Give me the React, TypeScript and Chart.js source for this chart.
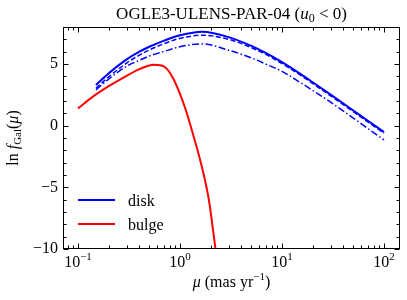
import React, { useEffect, useRef } from "react";
import { Chart, registerables } from "chart.js";

Chart.register(...registerables);

const SERIF = '"Liberation Serif", "DejaVu Serif", serif';

// proper motion grid (mas/yr) for the disk curves
const muDisk = [0.15, 0.2, 0.3, 0.4, 0.5, 0.7, 1, 1.65, 3, 5, 7, 10, 15, 20, 30, 50, 70, 100];
const diskSolid = [3.3, 4.24, 5.37, 6.0, 6.4, 6.9, 7.33, 7.62, 7.18, 6.47, 5.88, 5.15, 4.22, 3.52, 2.52, 1.23, 0.38, -0.52];
const diskDashed = [3.03, 3.95, 5.08, 5.72, 6.14, 6.65, 7.08, 7.33, 7.0, 6.33, 5.76, 5.04, 4.12, 3.42, 2.42, 1.13, 0.28, -0.62];
const diskDashDot = [2.9, 3.78, 4.82, 5.3, 5.65, 6.02, 6.4, 6.63, 6.12, 5.5, 4.98, 4.4, 3.52, 2.86, 1.9, 0.62, -0.25, -1.15];

// bulge curve
const muBulge = [0.1, 0.14, 0.2, 0.274, 0.4, 0.48, 0.56, 0.7, 0.84, 0.98, 1.14, 1.32, 1.64, 1.92, 2.15, 2.35];
const bulge = [1.4, 2.35, 3.2, 3.86, 4.58, 4.84, 4.93, 4.78, 3.97, 2.76, 1.27, -0.49, -3.35, -6.03, -9.0, -11.5];

const xMajorTicks = [0.1, 1, 10, 100];
const xMajorExponents = ["\u22121", "0", "1", "2"];
const yMajorTicks = [-10, -5, 0, 5];
const X_MIN = 0.0713;
const X_MAX = 143.5;
const Y_MIN = -10;
const Y_MAX = 8;

const legendItems = [
  { label: "disk", color: "#0000ff" },
  { label: "bulge", color: "#ff0000" },
];

type Part = { t: string; font: string; dy?: number };

function richWidth(ctx: CanvasRenderingContext2D, parts: Part[]) {
  let w = 0;
  for (const p of parts) {
    ctx.font = p.font;
    w += ctx.measureText(p.t).width;
  }
  return w;
}

function drawRich(ctx: CanvasRenderingContext2D, parts: Part[], x: number, y: number, align: "left" | "center" | "right") {
  const w = richWidth(ctx, parts);
  let cx = align === "center" ? x - w / 2 : align === "right" ? x - w : x;
  ctx.textAlign = "left";
  ctx.textBaseline = "alphabetic";
  for (const p of parts) {
    ctx.font = p.font;
    ctx.fillText(p.t, cx, y + (p.dy || 0));
    cx += ctx.measureText(p.t).width;
  }
}

const R = (s: number) => `${s}px ${SERIF}`;
const I = (s: number) => `italic ${s}px ${SERIF}`;

const decorPlugin = {
  id: "decor",
  afterDraw(chart: any) {
    const ctx: CanvasRenderingContext2D = chart.ctx;
    const { left, right, top, bottom } = chart.chartArea;
    const xs = chart.scales.x;
    const ys = chart.scales.y;
    ctx.save();
    ctx.fillStyle = "#000";
    ctx.strokeStyle = "#000";
    ctx.lineWidth = 1;
    // frame
    const L = Math.round(left) + 0.5;
    const Rr = Math.round(right) - 0.5;
    const T = Math.round(top) + 0.5;
    const B = Math.round(bottom) - 0.5;
    ctx.strokeRect(L, T, Rr - L, B - T);

    // x ticks (inward, bottom and top)
    ctx.beginPath();
    for (let d = -2; d <= 2; d++) {
      for (let m = 1; m <= 9; m++) {
        const v = m * Math.pow(10, d);
        if (v < X_MIN || v > X_MAX) continue;
        const px = Math.round(xs.getPixelForValue(v)) + 0.5;
        const len = m === 1 ? 5 : 3;
        ctx.moveTo(px, B);
        ctx.lineTo(px, B - len);
        ctx.moveTo(px, T);
        ctx.lineTo(px, T + len);
      }
    }
    // y ticks (inward, left and right)
    for (let v = Y_MIN; v <= Y_MAX; v++) {
      const py = Math.round(ys.getPixelForValue(v)) + 0.5;
      const len = v % 5 === 0 ? 5 : 3;
      ctx.moveTo(L, py);
      ctx.lineTo(L + len, py);
      ctx.moveTo(Rr, py);
      ctx.lineTo(Rr - len, py);
    }
    ctx.stroke();

    // x tick labels
    xMajorTicks.forEach((v, i) => {
      const px = xs.getPixelForValue(v);
      drawRich(ctx, [
        { t: "10", font: R(16) },
        { t: xMajorExponents[i], font: R(11), dy: -7 },
      ], px, 267, "center");
    });

    // title
    drawRich(ctx, [
      { t: "OGLE3-ULENS-PAR-04 (", font: R(17) },
      { t: "u", font: I(17) },
      { t: "0", font: R(12), dy: 3 },
      { t: " < 0)", font: R(17) },
    ], (left + right) / 2, 19, "center");

    // x label
    drawRich(ctx, [
      { t: "\u03bc", font: I(16) },
      { t: " (mas yr", font: R(16) },
      { t: "\u22121", font: R(11), dy: -7 },
      { t: ")", font: R(16) },
    ], (left + right) / 2, 287, "center");

    // y label
    ctx.save();
    ctx.translate(18, (top + bottom) / 2);
    ctx.rotate(-Math.PI / 2);
    drawRich(ctx, [
      { t: "ln ", font: R(16) },
      { t: "f", font: I(16) },
      { t: "Gal", font: R(11), dy: 3 },
      { t: "(", font: R(16) },
      { t: "\u03bc", font: I(16) },
      { t: ")", font: R(16) },
    ], 0, 0, "center");
    ctx.restore();

    // legend
    const rows = [200, 224];
    legendItems.forEach((it, i) => {
      const y = rows[i];
      ctx.strokeStyle = it.color;
      ctx.lineWidth = 2;
      ctx.setLineDash([]);
      ctx.beginPath();
      ctx.moveTo(78, y);
      ctx.lineTo(115, y);
      ctx.stroke();
      ctx.fillStyle = "#000";
      drawRich(ctx, [{ t: it.label, font: R(16) }], 128, y + 5.5, "left");
    });
    ctx.restore();
  },
};

function pts(xs: number[], ys: number[]) {
  return xs.map((x, i) => ({ x, y: ys[i] }));
}

export default function App() {
  const ref = useRef<HTMLCanvasElement | null>(null);
  useEffect(() => {
    if (!ref.current) return;
    const chart = new Chart(ref.current, {
      type: "line",
      data: {
        datasets: [
          {
            label: "disk",
            data: pts(muDisk, diskSolid),
            borderColor: "#0000ff",
            borderWidth: 2,
            pointRadius: 0,
            cubicInterpolationMode: "monotone",
          },
          {
            label: "disk (dashed)",
            data: pts(muDisk, diskDashed),
            borderColor: "#0000ff",
            borderWidth: 1.5,
            borderDash: [5, 2.5],
            pointRadius: 0,
            cubicInterpolationMode: "monotone",
          },
          {
            label: "disk (dash-dot)",
            data: pts(muDisk, diskDashDot),
            borderColor: "#0000ff",
            borderWidth: 1.5,
            borderDash: [7, 2.5, 1.5, 2.5],
            pointRadius: 0,
            cubicInterpolationMode: "monotone",
          },
          {
            label: "bulge",
            data: pts(muBulge, bulge),
            borderColor: "#ff0000",
            borderWidth: 2,
            pointRadius: 0,
            cubicInterpolationMode: "monotone",
          },
        ],
      },
      options: {
        animation: false,
        responsive: false,
        devicePixelRatio: 1,
        layout: { padding: { top: 27, right: 7, bottom: 0, left: 0 } },
        plugins: {
          legend: { display: false },
          title: { display: false },
          tooltip: { enabled: false },
        },
        scales: {
          x: {
            type: "logarithmic",
            min: X_MIN,
            max: X_MAX,
            grid: { display: false, drawTicks: false },
            border: { display: false },
            ticks: { display: false },
            afterBuildTicks: (s: any) => {
              s.ticks = xMajorTicks.map((v) => ({ value: v }));
            },
            afterFit: (s: any) => {
              s.height = 51;
            },
          },
          y: {
            type: "linear",
            min: Y_MIN,
            max: Y_MAX,
            grid: { display: false, drawTicks: false },
            border: { display: false },
            ticks: {
              color: "#000",
              font: { family: SERIF, size: 16 },
              padding: 5,
              callback: (v: any) => (Number(v) < 0 ? "\u2212" + Math.abs(Number(v)) : String(v)),
            },
            afterBuildTicks: (s: any) => {
              s.ticks = yMajorTicks.map((v) => ({ value: v }));
            },
            afterFit: (s: any) => {
              s.width = 63;
            },
          },
        },
      } as any,
      plugins: [decorPlugin],
    });
    return () => chart.destroy();
  }, []);
  return (
    <div style={{ position: "fixed", left: 0, top: 0, width: 407, height: 300, background: "#fff" }}>
      <canvas ref={ref} width={407} height={300} style={{ display: "block", width: 407, height: 300 }} />
    </div>
  );
}
